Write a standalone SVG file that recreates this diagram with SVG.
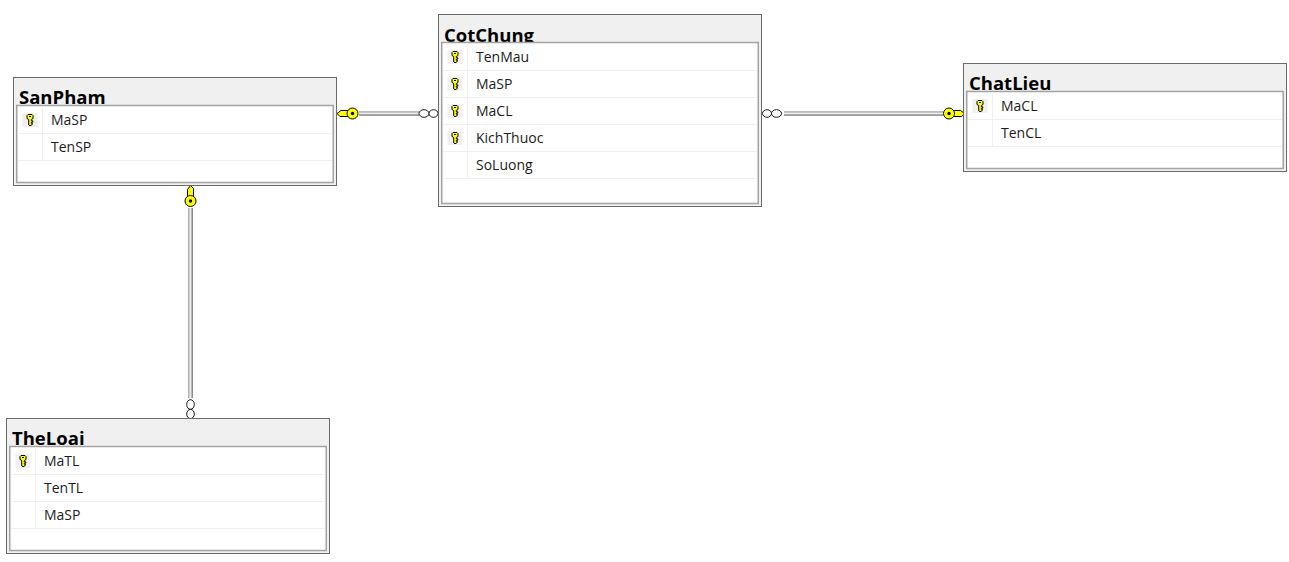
<svg xmlns="http://www.w3.org/2000/svg" xmlns:xlink="http://www.w3.org/1999/xlink" width="1289" height="562" viewBox="0 0 1289 562">
<style>
.outer{fill:#f0f0f0;stroke:#6a6a6a;stroke-width:1}
.inner{fill:#fff;stroke:#a3a3a3;stroke-width:1.5}
.title{font:700 18.500px "Open Sans","Noto Sans",sans-serif;fill:#000}
.row{font:14px "Open Sans","Noto Sans",sans-serif;fill:#1c1c1c}
.sep{stroke:#f0f0f0;stroke-width:1;fill:none}
.kb{fill:#f0f0f0}
.l1{stroke:#a5a5a5;stroke-width:1.500;fill:none}
.l2{stroke:#ececec;stroke-width:1.500;fill:none}
.l3{stroke:#777;stroke-width:1.500;fill:none}
.ring{fill:#fff;stroke:#000;stroke-width:.9}
.k{fill:#ffff00;stroke:#000;stroke-width:1}
</style>
<defs>
<g id="key"><rect class="kb" x="-7.500" y="-7" width="15" height="14"/><path d="M-3 -4.500L-2 -5.500H2L3 -4.500V-1.500L1.300 -.5V.8H2.800V2.200H1.300V3.200H2.300V4.500L0 5.800L-1.300 4.800V-.5L-3 -1.500Z" class="k"/><rect x="-1" y="-4" width="2" height="1" fill="#000"/></g>
<g id="bigkey"><path d="M3 -3H11.500L15.500 0L12.500 3H3Z" class="k"/><circle cx="0" cy="0" r="5.500" class="k"/><circle cx="0" cy="0" r="1.700" fill="#000"/></g>
</defs>
<rect width="1289" height="562" fill="#fff"/>
<g id="connectors">
<g id="c-sanpham-cotchung">
<path class="l1" d="M359 111.900H419"/><path class="l3" d="M359 115.100H419"/><path class="l2" d="M359 113.500H419"/>
<ellipse class="ring" cx="424" cy="113.500" rx="5" ry="3.800"/><ellipse class="ring" cx="433.500" cy="113.500" rx="4.500" ry="3.800"/>
<use xlink:href="#bigkey" href="#bigkey" transform="translate(352.500 113.500) scale(-1 1)"/>
</g>
<g id="c-cotchung-chatlieu">
<path class="l1" d="M784 111.900H943"/><path class="l3" d="M784 115.100H943"/><path class="l2" d="M784 113.500H943"/>
<ellipse class="ring" cx="767" cy="113.500" rx="4.500" ry="3.800"/><ellipse class="ring" cx="776.500" cy="113.500" rx="5" ry="3.800"/>
<use xlink:href="#bigkey" href="#bigkey" transform="translate(949 113.500)"/>
</g>
<g id="c-sanpham-theloai">
<path class="l1" d="M188.900 208V398"/><path class="l3" d="M192.100 208V398"/><path class="l2" d="M190.500 208V398"/>
<ellipse class="ring" cx="190.500" cy="404.500" rx="3.800" ry="4.800"/><ellipse class="ring" cx="190.500" cy="414" rx="3.800" ry="4.600"/>
<use xlink:href="#bigkey" href="#bigkey" transform="translate(190.500 201) rotate(-90)"/>
</g>
</g>
<g id="SanPham">
<rect class="outer" x="13.500" y="77.500" width="323" height="108"/>
<text class="title" x="19" y="104">SanPham</text>
<rect class="inner" x="16.750" y="105.500" width="316.500" height="77"/>
<path class="sep" d="M18 133.500H332M18 160.500H332M42.500 106V160"/>
<use xlink:href="#key" href="#key" x="30" y="120"/>
<text class="row" x="51" y="125">MaSP</text>
<text class="row" x="51" y="152">TenSP</text>
</g>
<g id="CotChung">
<rect class="outer" x="438.500" y="14.500" width="323" height="192"/>
<text class="title" x="444" y="41.500">CotChung</text>
<rect class="inner" x="441.750" y="42.500" width="316.500" height="161"/>
<path class="sep" d="M443 70.500H757M443 97.500H757M443 124.500H757M443 151.500H757M443 178.500H757M467.500 43V178"/>
<use xlink:href="#key" href="#key" x="455" y="57"/>
<use xlink:href="#key" href="#key" x="455" y="84"/>
<use xlink:href="#key" href="#key" x="455" y="111"/>
<use xlink:href="#key" href="#key" x="455" y="138"/>
<text class="row" x="476" y="62">TenMau</text>
<text class="row" x="476" y="89">MaSP</text>
<text class="row" x="476" y="116">MaCL</text>
<text class="row" x="476" y="143">KichThuoc</text>
<text class="row" x="476" y="170">SoLuong</text>
</g>
<g id="ChatLieu">
<rect class="outer" x="963.500" y="63.500" width="323" height="108"/>
<text class="title" x="969" y="90">ChatLieu</text>
<rect class="inner" x="966.750" y="91.500" width="316.500" height="77"/>
<path class="sep" d="M968 119.500H1282M968 146.500H1282M992.500 92V146"/>
<use xlink:href="#key" href="#key" x="980" y="106"/>
<text class="row" x="1001" y="111">MaCL</text>
<text class="row" x="1001" y="138">TenCL</text>
</g>
<g id="TheLoai">
<rect class="outer" x="6.500" y="418.500" width="323" height="135"/>
<text class="title" x="12" y="445">TheLoai</text>
<rect class="inner" x="9.750" y="446.500" width="316.500" height="104"/>
<path class="sep" d="M11 474.500H325M11 501.500H325M11 528.500H325M35.500 447V528"/>
<use xlink:href="#key" href="#key" x="23" y="461"/>
<text class="row" x="44" y="466">MaTL</text>
<text class="row" x="44" y="493">TenTL</text>
<text class="row" x="44" y="520">MaSP</text>
</g>
</svg>
